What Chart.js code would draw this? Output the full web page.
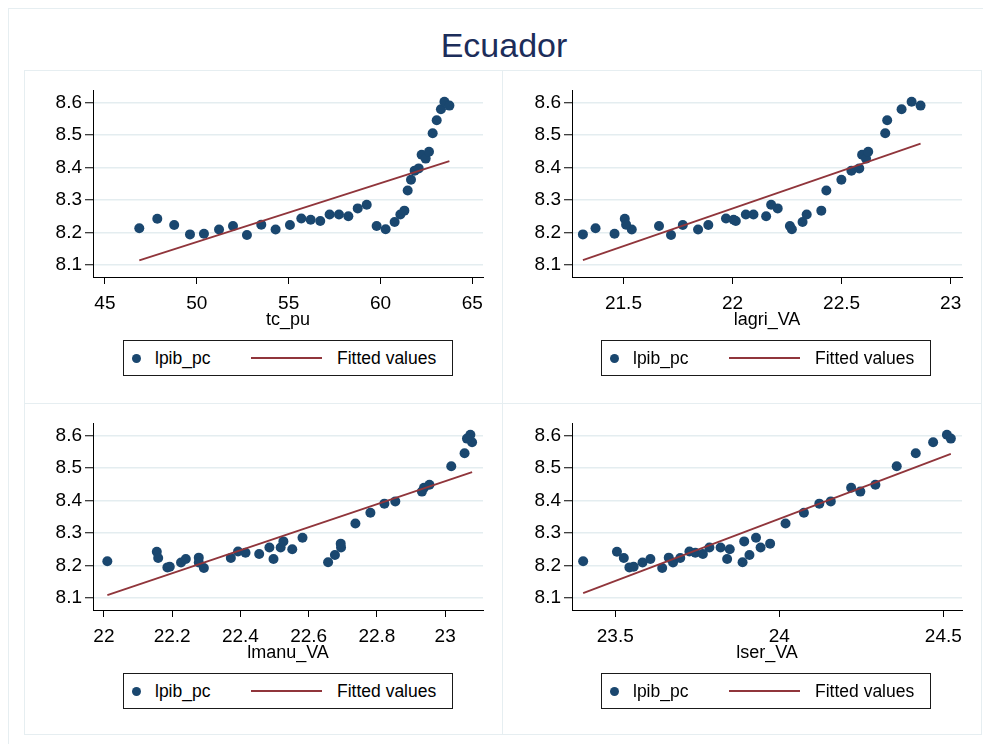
<!DOCTYPE html>
<html>
<head>
<meta charset="utf-8">
<script src="https://cdn.jsdelivr.net/npm/chart.js@4.4.1/dist/chart.umd.min.js"></script>
<style>
  body { margin: 0; background: #fff; font-family: 'Liberation Sans', Arial, sans-serif; }
  #page { position: relative; width: 983px; height: 744px; overflow: hidden; background: #fff; }
  #outer { position: absolute; left: 8px; top: 8px; width: 1000px; height: 760px; border: 1px solid #e6eef1; }
  #title { position: absolute; left: 0; width: 1008px; top: 28px; line-height: 34px; text-align: center; font-size: 34px; color: #1c2d5a; }
  .frame { position: absolute; box-sizing: border-box; border: 1px solid #e6eef1; }
  canvas { position: absolute; }
  .legend { position: absolute; width: 330px; height: 36px; box-sizing: border-box; border: 1px solid #1a1a1a; background: #fff; font-size: 17.5px; color: #000; }
  .legend .dot { position: absolute; left: 8px; top: 13px; width: 9px; height: 9px; border-radius: 50%; background: #1a476f; }
  .legend .line { position: absolute; left: 127px; top: 16px; width: 71px; height: 2px; background: #90353b; }
  .legend .txt { position: absolute; top: 7px; line-height: 20px; white-space: nowrap; }
</style>
</head>
<body>
<div id="page">
  <div id="outer"></div>
  <div id="title">Ecuador</div>
  <div class="frame" style="left:24px;top:70px;width:479px;height:334px"></div>
  <div class="frame" style="left:502px;top:70px;width:480px;height:334px"></div>
  <div class="frame" style="left:24px;top:403px;width:479px;height:332px"></div>
  <div class="frame" style="left:502px;top:403px;width:480px;height:332px"></div>
  <canvas id="c1" width="478" height="333" style="left:24px;top:70px"></canvas>
  <canvas id="c2" width="479" height="333" style="left:502px;top:70px"></canvas>
  <canvas id="c3" width="478" height="331" style="left:24px;top:403px"></canvas>
  <canvas id="c4" width="479" height="331" style="left:502px;top:403px"></canvas>
</div>
<script>
// lpib_pc (y, same in every panel), in year order
const lpibPc = [8.213, 8.242, 8.223, 8.194, 8.196, 8.209, 8.220, 8.192, 8.224, 8.209, 8.223, 8.243,
  8.239, 8.235, 8.255, 8.255, 8.250, 8.274, 8.285, 8.220, 8.210, 8.232, 8.255, 8.267,
  8.329, 8.362, 8.390, 8.397, 8.439, 8.427, 8.448, 8.505, 8.545, 8.579, 8.602, 8.590];

// x variables
const tcPu = [46.87, 47.85, 48.77, 49.63, 50.39, 51.21, 51.97, 52.73, 53.51, 54.29, 55.07, 55.69,
  56.20, 56.72, 57.23, 57.74, 58.25, 58.76, 59.25, 59.79, 60.28, 60.77, 61.08, 61.30,
  61.48, 61.66, 61.86, 62.08, 62.24, 62.46, 62.64, 62.84, 63.06, 63.29, 63.48, 63.75];
const lagriVA = [21.372, 21.506, 21.889, 21.314, 21.459, 21.538, 21.663, 21.718, 21.512, 21.842, 21.772, 21.970,
  22.005, 22.015, 22.061, 22.096, 22.154, 22.207, 22.177, 22.263, 22.272, 22.321, 22.340, 22.407,
  22.430, 22.499, 22.545, 22.581, 22.594, 22.612, 22.622, 22.700, 22.709, 22.775, 22.821, 22.862];
const lmanuVA = [22.010, 22.155, 22.159, 22.186, 22.193, 22.226, 22.240, 22.293, 22.278, 22.278, 22.372, 22.393,
  22.415, 22.455, 22.485, 22.518, 22.552, 22.526, 22.582, 22.497, 22.657, 22.677, 22.695, 22.694,
  22.737, 22.781, 22.822, 22.854, 22.938, 22.932, 22.954, 23.018, 23.057, 23.079, 23.074, 23.064];
const lserVA = [23.402, 23.505, 23.526, 23.543, 23.556, 23.583, 23.607, 23.643, 23.663, 23.676, 23.698, 23.726,
  23.744, 23.767, 23.787, 23.821, 23.849, 23.893, 23.929, 23.841, 23.888, 23.909, 23.943, 23.972,
  24.019, 24.075, 24.122, 24.157, 24.219, 24.247, 24.293, 24.358, 24.416, 24.469, 24.511, 24.523];

// fitted values (line ends)
const fitTcPuX = [46.87, 63.75],   fitTcPuY = [8.114, 8.419];
const fitAgriX = [21.314, 22.862], fitAgriY = [8.115, 8.473];
const fitManuX = [22.010, 23.079], fitManuY = [8.109, 8.487];
const fitSerX  = [23.402, 24.523], fitSerY  = [8.115, 8.543];

// tick labels
const yTicks = [8.1, 8.2, 8.3, 8.4, 8.5, 8.6];
const tcPuTicks = [45, 50, 55, 60, 65];
const agriTicks = [21.5, 22, 22.5, 23];
const manuTicks = [22, 22.2, 22.4, 22.6, 22.8, 23];
const serTicks = [23.5, 24, 24.5];

const legendLabels = ['lpib_pc', 'Fitted values'];

Chart.defaults.font.family = "'Liberation Sans', Arial, sans-serif";
Chart.defaults.color = '#000';

function makePanel(id, xs, fitX, fitY, xMin, xMax, xTicks, xTitle, yWidth) {
    const canvas = document.getElementById(id);
    const H = canvas.height;
    new Chart(canvas, {
        type: 'scatter',
        data: {
            datasets: [{
                type: 'line',
                label: legendLabels[1],
                data: fitX.map((x, i) => ({ x: x, y: fitY[i] })),
                borderColor: '#90353b',
                borderWidth: 1.8,
                pointRadius: 0,
                fill: false,
                order: 0
            }, {
                label: legendLabels[0],
                data: xs.map((x, i) => ({ x: x, y: lpibPc[i] })),
                backgroundColor: '#1a476f',
                borderWidth: 0,
                pointRadius: 5,
                order: 1
            }]
        },
        options: {
            responsive: false,
            animation: false,
            devicePixelRatio: 1,
            layout: { padding: { left: 0, top: 20, right: 19, bottom: H - 207 - 55 } },
            plugins: { legend: { display: false }, tooltip: { enabled: false } },
            scales: {
                x: {
                    type: 'linear',
                    min: xMin, max: xMax,
                    afterBuildTicks: s => { s.ticks = xTicks.map(v => ({ value: v })); },
                    afterFit: s => { s.height = 55; },
                    grid: { drawOnChartArea: false, tickLength: 7, tickColor: '#000', tickWidth: 1 },
                    border: { display: true, color: '#000', width: 1 },
                    ticks: { font: { size: 19 }, padding: 8, maxRotation: 0, callback: v => String(v) },
                    title: { display: true, text: xTitle, font: { size: 18 }, padding: { top: 0, bottom: 1 } }
                },
                y: {
                    type: 'linear',
                    min: 8.063, max: 8.638,
                    afterBuildTicks: s => { s.ticks = yTicks.map(v => ({ value: v })); },
                    afterFit: s => { s.width = yWidth; },
                    grid: { color: '#e4edf0', lineWidth: 1.5, tickLength: 8, tickColor: '#000', tickWidth: 1 },
                    border: { display: true, color: '#000', width: 1 },
                    ticks: { font: { size: 19 }, padding: 3, callback: v => v.toFixed(1) }
                }
            }
        }
    });

    // legend box under the plot
    const lg = document.createElement('div');
    lg.className = 'legend';
    lg.style.left = (parseInt(canvas.style.left) + 99) + 'px';
    lg.style.top = (parseInt(canvas.style.top) + 270) + 'px';
    lg.innerHTML = '<span class="dot"></span><span class="txt" style="left:31px">' + legendLabels[0] +
        '</span><span class="line"></span><span class="txt" style="left:213px">' + legendLabels[1] + '</span>';
    document.getElementById('page').appendChild(lg);
}

makePanel('c1', tcPu, fitTcPuX, fitTcPuY, 44.35, 65.58, tcPuTicks, 'tc_pu', 69);
makePanel('c2', lagriVA, fitAgriX, fitAgriY, 21.264, 23.052, agriTicks, 'lagri_VA', 70);
makePanel('c3', lmanuVA, fitManuX, fitManuY, 21.968, 23.111, manuTicks, 'lmanu_VA', 69);
makePanel('c4', lserVA, fitSerX, fitSerY, 23.368, 24.557, serTicks, 'lser_VA', 70);
</script>
</body>
</html>
